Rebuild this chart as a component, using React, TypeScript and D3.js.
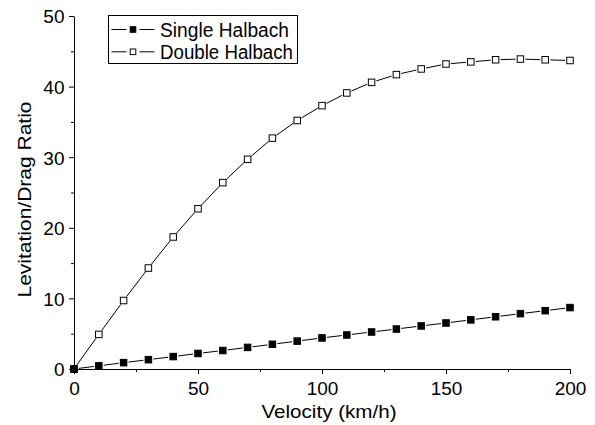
import {useEffect, useRef} from "react";
import * as d3 from "d3";

const velocity = [0, 10, 20, 30, 40, 50, 60, 70, 80, 90, 100, 110, 120, 130, 140, 150, 160, 170, 180, 190, 200];
const singleHalbach = [0, 0.45, 0.9, 1.32, 1.76, 2.2, 2.62, 3.06, 3.5, 3.95, 4.4, 4.82, 5.24, 5.66, 6.1, 6.52, 6.96, 7.4, 7.84, 8.26, 8.7];
const doubleHalbach = [0, 4.9, 9.7, 14.3, 18.7, 22.7, 26.4, 29.7, 32.7, 35.2, 37.3, 39.1, 40.6, 41.7, 42.5, 43.2, 43.5, 43.8, 43.9, 43.8, 43.7];
const seriesNames = ["Single Halbach", "Double Halbach"];
const xTicks = [0, 50, 100, 150, 200];
const yTicks = [0, 10, 20, 30, 40, 50];

export default function App() {
    const ref = useRef<SVGSVGElement>(null);

    useEffect(() => {
        const svg = d3.select(ref.current);
        svg.selectAll("*").remove();

        // plot area
        const margin = {top: 16, right: 25, bottom: 56, left: 74};
        const width = 595 - margin.left - margin.right;
        const height = 425 - margin.top - margin.bottom;
        const font = "Arial, 'Liberation Sans', sans-serif";

        const g = svg.append("g")
            .attr("transform", "translate(" + margin.left + "," + margin.top + ")");

        const x = d3.scaleLinear().domain([0, 200]).range([0, width]);
        const y = d3.scaleLinear().domain([0, 50]).range([height, 0]);

        // minor ticks
        g.append("g")
            .attr("transform", "translate(0," + height + ")")
            .call(d3.axisBottom(x).tickValues([25, 75, 125, 175]).tickSize(3).tickFormat(() => ""))
            .call(a => a.select(".domain").remove());
        g.append("g")
            .call(d3.axisLeft(y).tickValues([5, 15, 25, 35, 45]).tickSize(3).tickFormat(() => ""))
            .call(a => a.select(".domain").remove());

        // major axes
        const xAxis = g.append("g")
            .attr("transform", "translate(0," + height + ")")
            .call(d3.axisBottom(x).tickValues(xTicks).tickSize(5).tickSizeOuter(0));
        const yAxis = g.append("g")
            .call(d3.axisLeft(y).tickValues(yTicks).tickSize(5).tickSizeOuter(0).tickPadding(4.5));

        [xAxis, yAxis].forEach(a => {
            a.selectAll("text").attr("font-family", font).attr("font-size", 19).attr("fill", "#000");
            a.selectAll("line,path").attr("stroke", "#000");
        });
        xAxis.selectAll("text").attr("y", 25.5).attr("dy", 0);
        yAxis.selectAll("text").attr("dy", "0.36em");

        g.append("text")
            .attr("x", width / 2 + 7)
            .attr("y", height + 49)
            .attr("text-anchor", "middle")
            .attr("font-family", font)
            .attr("font-size", 19)
            .attr("textLength", 135)
            .attr("lengthAdjust", "spacingAndGlyphs")
            .text("Velocity (km/h)");

        g.append("text")
            .attr("transform", "translate(-43," + (height / 2 + 7) + ") rotate(-90)")
            .attr("text-anchor", "middle")
            .attr("font-family", font)
            .attr("font-size", 18)
            .attr("textLength", 196)
            .attr("lengthAdjust", "spacingAndGlyphs")
            .text("Levitation/Drag Ratio");

        // lines with a gap at each symbol
        const gap = 5;
        const size = 6.5;
        const drawSeries = (vals: number[], filled: boolean) => {
            const pts = velocity.map((v, i) => [x(v), y(vals[i])]);
            const segs = d3.pairs(pts);
            g.append("g").selectAll("line")
                .data(segs)
                .enter()
                .append("line")
                .each(function (d) {
                    const [p, q] = d;
                    const dx = q[0] - p[0], dy = q[1] - p[1];
                    const len = Math.sqrt(dx * dx + dy * dy);
                    const ux = dx / len, uy = dy / len;
                    d3.select(this)
                        .attr("x1", p[0] + ux * gap).attr("y1", p[1] + uy * gap)
                        .attr("x2", q[0] - ux * gap).attr("y2", q[1] - uy * gap);
                })
                .attr("stroke", "#000")
                .attr("stroke-width", 1);

            g.append("g").selectAll("rect")
                .data(pts)
                .enter()
                .append("rect")
                .attr("x", d => d[0] - size / 2)
                .attr("y", d => d[1] - size / 2)
                .attr("width", size)
                .attr("height", size)
                .attr("fill", filled ? "#000" : "#fff")
                .attr("stroke", "#000")
                .attr("stroke-width", 1);
        };

        drawSeries(doubleHalbach, false);
        drawSeries(singleHalbach, true);

        // legend
        const legend = svg.append("g").attr("transform", "translate(108.5,15.5)");
        legend.append("rect")
            .attr("x", 0).attr("y", 0)
            .attr("width", 189).attr("height", 48)
            .attr("fill", "#fff").attr("stroke", "#000");

        const textLens = [129, 133];
        seriesNames.forEach((name, i) => {
            const ly = 14 + i * 22.3;
            const row = legend.append("g").attr("transform", "translate(0," + ly + ")");
            row.append("line").attr("x1", 3).attr("x2", 18).attr("y1", 0).attr("y2", 0).attr("stroke", "#000");
            row.append("line").attr("x1", 31).attr("x2", 46).attr("y1", 0).attr("y2", 0).attr("stroke", "#000");
            row.append("rect")
                .attr("x", 24.5 - 2.8).attr("y", -2.8)
                .attr("width", 5.6).attr("height", 5.6)
                .attr("fill", i === 0 ? "#000" : "#fff")
                .attr("stroke", "#000");
            row.append("text")
                .attr("x", 51.5).attr("y", 0)
                .attr("dy", "0.36em")
                .attr("font-family", font)
                .attr("font-size", 20)
                .attr("textLength", textLens[i])
                .attr("lengthAdjust", "spacingAndGlyphs")
                .text(name);
        });
    }, []);

    return <svg ref={ref} width={595} height={425}
                style={{position: "absolute", left: 0, top: 0, background: "#fff"}}></svg>;
}
